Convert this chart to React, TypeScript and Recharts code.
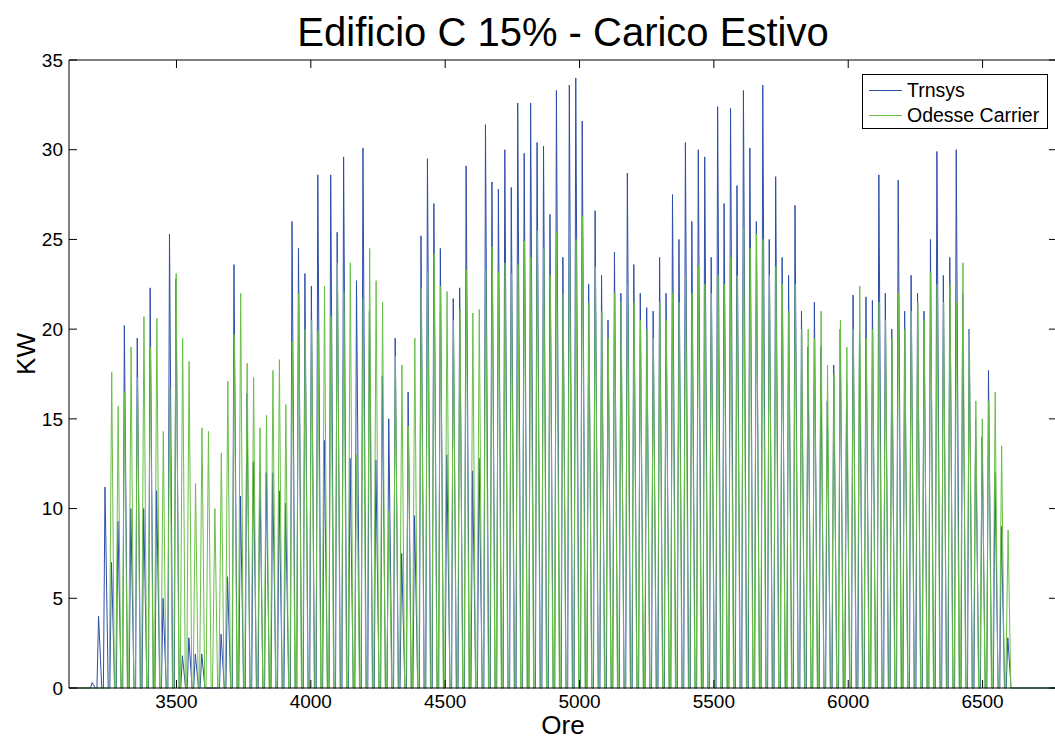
import { Legend, Line, LineChart, XAxis, YAxis } from "recharts"

// hours shown on the x axis
const HOUR_MIN = 3100
const HOUR_MAX = 6777
// first day of the summer run (hour at which day 0 starts)
const FIRST_DAY_HOUR = 3168

// daily peak load, kW, one value per day
const trnsysPeaks = [
	0.3, 4.0, 11.2, 7.0, 9.3, 20.2, 10.0, 19.5, 10.0, 22.3,
	11.0, 5.0, 25.3, 22.8, 1.8, 2.8, 1.9, 1.9, 0, 0,
	3.0, 6.2, 23.6, 10.7, 16.4, 12.6, 12.0, 12.0, 12.0, 11.0,
	10.3, 26.0, 24.5, 23.1, 22.4, 28.6, 13.8, 28.6, 25.4, 29.6,
	12.8, 22.7, 30.1, 21.0, 12.7, 17.4, 15.0, 19.5, 7.5, 16.5,
	9.6, 25.2, 29.5, 27.0, 24.5, 13.0, 21.7, 22.3, 29.1, 12.1,
	12.8, 31.4, 28.2, 27.8, 30.0, 27.9, 32.6, 29.8, 32.6, 30.4,
	30.2, 26.4, 33.3, 24.0, 33.6, 34.0, 31.6, 22.5, 26.6, 23.0,
	20.5, 24.3, 22.0, 28.7, 23.6, 22.0, 21.2, 21.0, 24.0, 22.0,
	27.5, 25.0, 30.4, 26.0, 30.0, 29.6, 24.0, 32.4, 27.0, 32.3,
	28.0, 33.3, 30.1, 26.0, 33.6, 25.0, 28.5, 24.0, 23.0, 26.9,
	21.0, 19.0, 21.5, 19.0, 16.0, 18.0, 20.0, 17.0, 21.9, 20.0,
	21.8, 21.6, 28.6, 22.0, 20.0, 28.3, 21.0, 23.0, 22.0, 21.0,
	25.0, 29.9, 23.0, 24.0, 30.0, 22.0, 20.0, 15.0, 14.0, 17.7,
	12.0, 9.0, 2.8,
]

const carrierPeaks = [
	0, 0, 0, 17.6, 15.7, 16.5, 19.0, 17.3, 20.7, 19.0,
	20.6, 14.3, 16.8, 23.1, 19.5, 18.2, 11.4, 14.5, 14.3, 10.0,
	13.1, 17.1, 19.7, 22.0, 18.1, 17.3, 14.5, 15.2, 17.7, 18.3,
	15.8, 19.3, 22.0, 20.0, 20.5, 19.9, 22.4, 20.7, 23.7, 22.1,
	23.7, 13.0, 21.7, 24.5, 22.7, 21.5, 9.9, 18.5, 18.0, 14.6,
	19.5, 22.3, 23.2, 24.2, 22.4, 22.1, 20.5, 21.1, 23.3, 20.9,
	21.1, 23.3, 24.6, 23.2, 23.7, 23.1, 23.6, 24.9, 24.0, 25.5,
	24.5, 23.0, 25.4, 22.0, 25.5, 25.0, 26.3, 21.5, 23.5, 21.0,
	19.5, 22.0, 21.5, 22.5, 21.5, 20.5, 20.0, 19.5, 21.5, 20.5,
	22.0, 21.5, 23.0, 22.0, 23.5, 22.5, 22.0, 23.0, 22.5, 24.0,
	23.0, 25.7, 24.5, 25.3, 25.0, 23.0, 23.5, 22.5, 21.0, 22.5,
	20.0, 20.0, 19.5, 21.0, 18.0, 17.5, 20.5, 19.0, 20.0, 22.4,
	19.5, 20.0, 21.5, 20.5, 19.5, 22.0, 20.0, 21.0, 21.5, 20.5,
	23.2, 22.5, 21.5, 22.5, 21.5, 23.7, 20.0, 16.0, 15.0, 16.0,
	16.5, 13.5, 8.8,
]

const xTicks = [3500, 4000, 4500, 5000, 5500, 6000, 6500]
const yTicks = [0, 5, 10, 15, 20, 25, 30, 35]

const BLUE = "#2d4ea9"
const GREEN = "#69bf47"

// plant on / peak / off hour inside each day
const toSeries = (peaks: number[], on: number, top: number, off: number) => {
	const pts = [{ x: HOUR_MIN, y: 0 }]
	peaks.forEach((p, i) => {
		const d = FIRST_DAY_HOUR + i * 24
		pts.push({ x: d + on, y: 0 }, { x: d + top, y: p }, { x: d + off, y: 0 })
	})
	pts.push({ x: HOUR_MAX, y: 0 })
	return pts
}

const trnsys = toSeries(trnsysPeaks, 12, 18, 30)
const carrier = toSeries(carrierPeaks, 10, 19, 29)

const LegendBox = () => (
	<svg width={187} height={56} style={{ display: "block" }}>
		<rect x={0.5} y={0.5} width={185} height={54} fill="#fff" stroke="#000" />
		<line x1={7} x2={40} y1={16.5} y2={16.5} stroke={BLUE} />
		<text x={45} y={23} fontSize={19.5} fill="#000">
			Trnsys
		</text>
		<line x1={7} x2={40} y1={41.5} y2={41.5} stroke={GREEN} />
		<text x={45} y={48} fontSize={19.5} fill="#000">
			Odesse Carrier
		</text>
	</svg>
)

const YTitle = ({ viewBox }: any) => {
	const cy = viewBox.y + viewBox.height / 2 - 20
	return (
		<text
			transform={`translate(35, ${cy}) rotate(-90)`}
			textAnchor="middle"
			fontSize={26}
			fill="#000"
		>
			KW
		</text>
	)
}

const noLabel = () => <g />

const App = () => (
	<div
		style={{
			position: "absolute",
			left: 0,
			top: 0,
			width: 1055,
			height: 740,
			overflow: "hidden",
			background: "#fff",
			fontFamily: "'Liberation Sans', Arial, sans-serif",
		}}
	>
		<LineChart
			width={1070}
			height={740}
			margin={{ top: 50, right: 3, bottom: 22, left: 9 }}
		>
			<XAxis
				xAxisId="bottom"
				dataKey="x"
				type="number"
				domain={[HOUR_MIN, HOUR_MAX]}
				allowDataOverflow
				ticks={xTicks}
				height={30}
				tickSize={-8}
				tickMargin={15}
				stroke="#000"
				tick={{ fill: "#000", fontSize: 19 }}
				label={{ value: "Ore", position: "bottom", offset: -2, fill: "#000", fontSize: 26 }}
			/>
			<XAxis
				xAxisId="top"
				orientation="top"
				dataKey="x"
				type="number"
				domain={[HOUR_MIN, HOUR_MAX]}
				allowDataOverflow
				ticks={xTicks}
				height={10}
				tickSize={-8}
				tick={noLabel}
				stroke="#000"
				label={{
					value: "Edificio C 15% - Carico Estivo",
					position: "top",
					offset: 4,
					fill: "#000",
					fontSize: 40,
				}}
			/>
			<YAxis
				yAxisId="left"
				type="number"
				domain={[0, 35]}
				ticks={yTicks}
				width={60}
				tickSize={-8}
				tickMargin={14}
				stroke="#000"
				tick={{ fill: "#000", fontSize: 19 }}
				label={{ content: YTitle }}
			/>
			<YAxis
				yAxisId="right"
				orientation="right"
				type="number"
				domain={[0, 35]}
				ticks={yTicks}
				width={10}
				tickSize={-8}
				tick={noLabel}
				stroke="#000"
			/>
			<Legend
				verticalAlign="middle"
				align="center"
				layout="horizontal"
				wrapperStyle={{ left: 862, top: 74, width: 187, height: 56 }}
				content={() => <LegendBox />}
			/>
			{/* same scales as bottom/left; bound here so the top and right frame get drawn */}
			<Line
				xAxisId="top"
				yAxisId="right"
				data={trnsys}
				dataKey="y"
				name="Trnsys"
				stroke={BLUE}
				strokeWidth={1}
				dot={false}
				isAnimationActive={false}
			/>
			<Line
				xAxisId="bottom"
				yAxisId="left"
				data={carrier}
				dataKey="y"
				name="Odesse Carrier"
				stroke={GREEN}
				strokeWidth={1}
				dot={false}
				isAnimationActive={false}
			/>
		</LineChart>
	</div>
)

export default App
